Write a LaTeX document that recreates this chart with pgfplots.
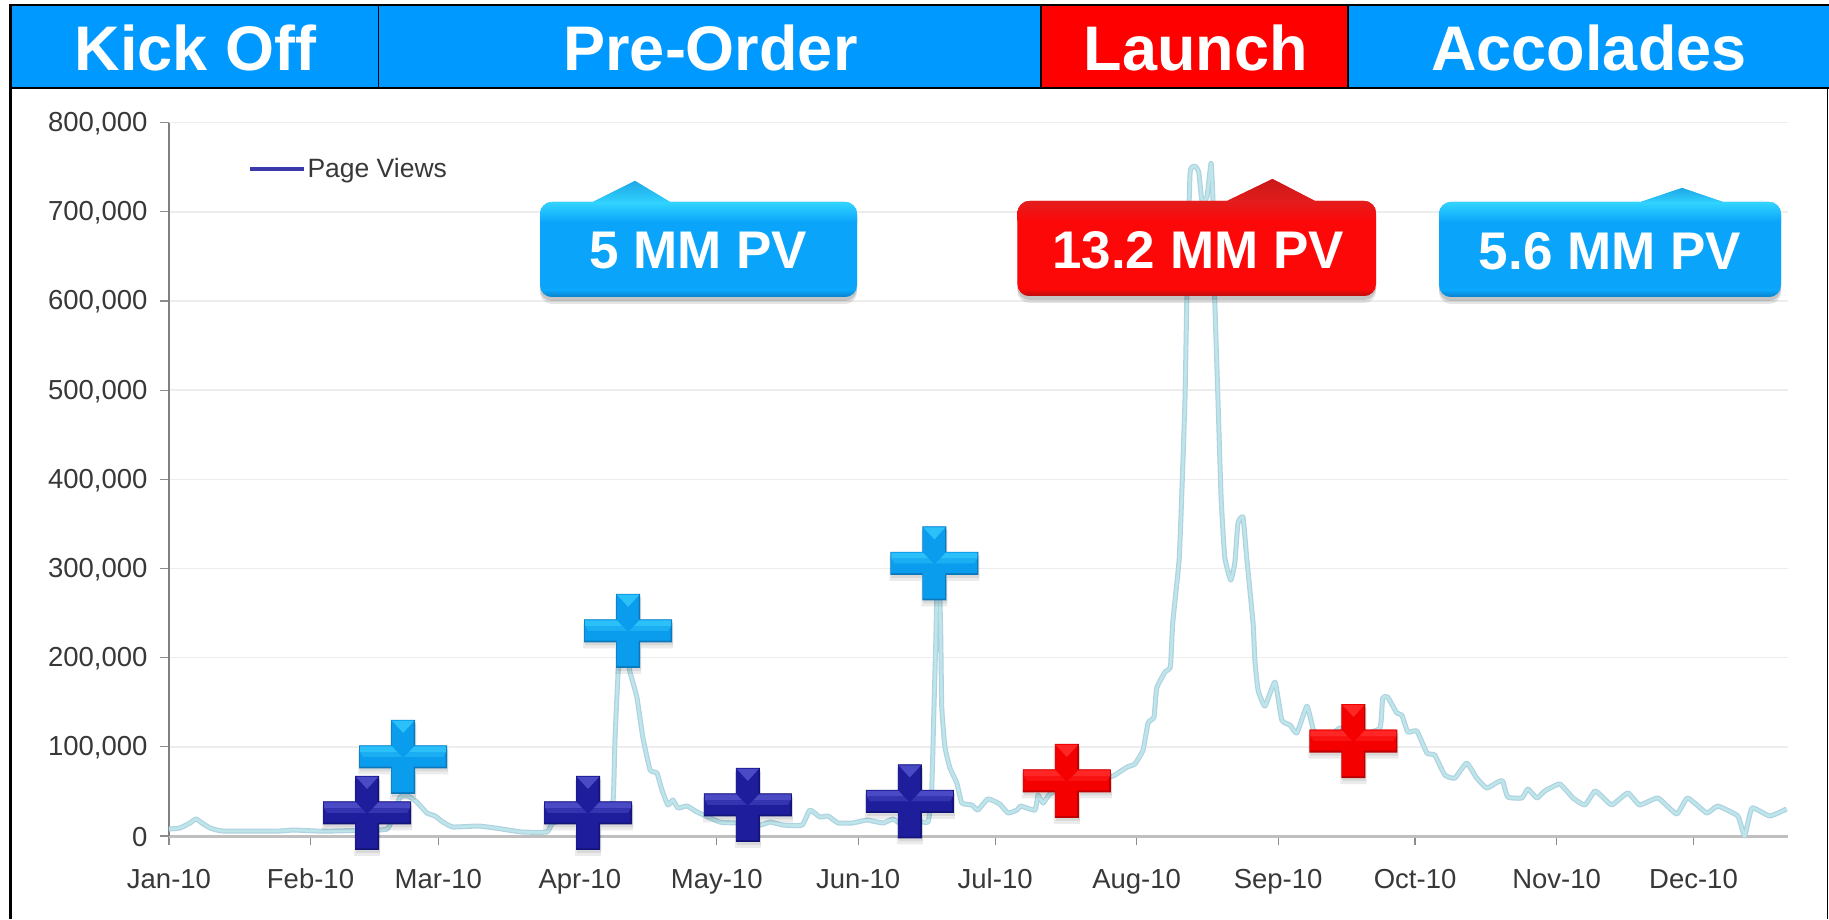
\documentclass[border=0pt]{standalone}
\usepackage{fontspec}
\setmainfont{Liberation Sans}
\usepackage{pgfplots}
\usepackage{pgfplotstable}
\pgfplotsset{compat=1.18}
\definecolor{hdrblue}{HTML}{0099FF}
\definecolor{hdrred}{HTML}{FF0000}
\definecolor{lineout}{HTML}{AFD2E0}
\definecolor{linein}{HTML}{BEE6EA}
\definecolor{lgdblue}{HTML}{3A3AA8}
\definecolor{txtgray}{HTML}{383838}
\definecolor{lbBase}{HTML}{0A9DEE}\definecolor{lbHi}{HTML}{2CC0F8}\definecolor{lbMid}{HTML}{1BAEF3}\definecolor{lbEdge}{HTML}{0B78BC}
\definecolor{dbBase}{HTML}{1E1E9C}\definecolor{dbHi}{HTML}{4A4AC4}\definecolor{dbMid}{HTML}{3434B0}\definecolor{dbEdge}{HTML}{14147A}
\definecolor{rdBase}{HTML}{F40000}\definecolor{rdHi}{HTML}{FF2626}\definecolor{rdMid}{HTML}{FA1212}\definecolor{rdEdge}{HTML}{BC0000}
\newcommand\pp[2]{\pgfqpoint{#1pt}{#2pt}}
\newcommand\crosspath[3]{%
  \pgfmathsetmacro\wx{44-#3}\pgfmathsetmacro\hy{37-#3}\pgfmathsetmacro\ax{12-#3}\pgfmathsetmacro\ay{11.5-#3}%
  \pgfpathmoveto{\pgfpoint{\ax pt+#1pt}{\hy pt+#2pt}}%
  \pgfpathlineto{\pgfpoint{\ax pt+#1pt}{\ay pt+#2pt}}%
  \pgfpathlineto{\pgfpoint{\wx pt+#1pt}{\ay pt+#2pt}}%
  \pgfpathlineto{\pgfpoint{\wx pt+#1pt}{-\ay pt+#2pt}}%
  \pgfpathlineto{\pgfpoint{\ax pt+#1pt}{-\ay pt+#2pt}}%
  \pgfpathlineto{\pgfpoint{\ax pt+#1pt}{-\hy pt+#2pt}}%
  \pgfpathlineto{\pgfpoint{-\ax pt+#1pt}{-\hy pt+#2pt}}%
  \pgfpathlineto{\pgfpoint{-\ax pt+#1pt}{-\ay pt+#2pt}}%
  \pgfpathlineto{\pgfpoint{-\wx pt+#1pt}{-\ay pt+#2pt}}%
  \pgfpathlineto{\pgfpoint{-\wx pt+#1pt}{\ay pt+#2pt}}%
  \pgfpathlineto{\pgfpoint{-\ax pt+#1pt}{\ay pt+#2pt}}%
  \pgfpathlineto{\pgfpoint{-\ax pt+#1pt}{\hy pt+#2pt}}%
  \pgfpathclose}
\newcommand\declcross[2]{%
\pgfdeclareplotmark{#1}{%
  \pgfsetlinewidth{0pt}%
  \pgfscope\pgfsetfillcolor{black}\pgfsetfillopacity{0.08}\crosspath{0}{-5}{-1}\pgfusepath{fill}\crosspath{1}{-3}{0}\pgfusepath{fill}\endpgfscope
  \pgfsetfillcolor{#2Edge}\crosspath{0}{0}{0}\pgfusepath{fill}%
  \pgfsetfillcolor{#2Base}\crosspath{-0.6}{0.8}{1}\pgfusepath{fill}%
  \pgfsetfillcolor{#2Mid}%
  \pgfpathmoveto{\pp{-43}{5}}\pgfpathlineto{\pp{-6}{5}}\pgfpathlineto{\pp{-1}{0}}\pgfpathlineto{\pp{-40}{0}}\pgfpathclose\pgfusepath{fill}%
  \pgfpathmoveto{\pp{43}{5}}\pgfpathlineto{\pp{6}{5}}\pgfpathlineto{\pp{1}{0}}\pgfpathlineto{\pp{40}{0}}\pgfpathclose\pgfusepath{fill}%
  \pgfsetfillcolor{#2Hi}%
  \pgfpathmoveto{\pp{-43}{10.5}}\pgfpathlineto{\pp{-11}{10.5}}\pgfpathlineto{\pp{-6}{5}}\pgfpathlineto{\pp{-43}{5}}\pgfpathclose\pgfusepath{fill}%
  \pgfpathmoveto{\pp{43}{10.5}}\pgfpathlineto{\pp{11}{10.5}}\pgfpathlineto{\pp{6}{5}}\pgfpathlineto{\pp{43}{5}}\pgfpathclose\pgfusepath{fill}%
  \pgfpathmoveto{\pp{-11}{36}}\pgfpathlineto{\pp{11}{36}}\pgfpathlineto{\pp{0}{24}}\pgfpathclose\pgfusepath{fill}%
}}
\declcross{crossLB}{lb}
\declcross{crossDB}{db}
\declcross{crossRD}{rd}
\pgfplotstableread{
day value
0 7800
2.4 9000
4.6 14600
5.9 19100
7.2 14600
9.0 9000
11.8 5600
24.3 5600
27.2 6700
32.4 5600
35.9 5600
44.0 6700
47.8 7800
49.3 23500
50.6 43700
52.4 44800
54.3 38100
56.5 25800
58.3 22400
60.0 15700
62.2 10100
67.7 11200
71.4 9000
77.3 4500
82.8 4500
84.1 14600
88.9 20200
95.5 23500
97.3 40400
97.7 107600
98.4 183800
99.0 208500
100.1 208500
101.0 183800
102.5 155800
103.8 111000
105.4 74000
106.9 70600
108.0 51600
109.3 34800
110.4 40400
111.5 31400
113.5 33600
115.7 26900
120.7 15700
124.4 14600
129.5 12300
131.7 15700
134.5 12300
138.7 12300
140.4 29100
142.6 21300
144.4 22400
146.6 14600
149.8 14600
152.9 17900
156.4 14600
158.6 19100
160.1 14600
163.4 17900
166.3 15700
167.1 51600
167.6 144600
168.0 219700
168.2 264600
168.5 309000
168.9 264600
169.1 219700
169.3 144600
170.0 99800
171.1 76200
172.6 59400
173.7 37000
175.9 34800
177.2 29100
179.4 41500
182.0 35900
183.8 25800
185.8 29100
186.6 33600
189.7 29100
190.4 46000
191.5 37000
193.0 47100
197.4 57200
201.8 61700
206.8 67300
209.9 77300
211.6 80700
213.4 96400
214.5 126700
215.8 133400
216.4 165900
218.2 183800
219.4 190000
219.9 238800
221.3 309400
221.9 385000
222.6 492100
223.0 604200
223.7 743200
224.8 751100
225.6 744300
226.3 713000
227.4 716300
228.3 754400
228.7 716300
229.1 604200
229.8 492100
230.5 380000
231.3 312800
232.6 287000
233.5 306000
234.2 350900
235.3 357600
236.1 312800
237.5 238800
237.9 197300
238.6 163700
240.1 145700
242.3 172600
243.8 130000
245.6 124400
247.1 115500
249.3 145700
250.6 121100
252.1 102000
256.5 121100
260.9 113200
265.3 121100
265.9 154700
267.0 155800
269.0 137900
270.1 135600
271.4 116600
273.4 117700
275.6 93000
277.3 90800
279.5 68400
281.7 65000
284.3 81800
286.5 65000
288.7 53800
291.1 60500
292.2 61700
293.3 43700
296.4 42600
297.7 52700
299.7 42600
301.4 50400
304.7 58300
307.6 42600
310.2 34800
312.4 50400
314.1 43700
316.1 34800
319.6 48200
322.2 34800
326.2 42600
330.3 24700
332.7 42600
336.9 25800
339.3 33600
343.7 22400
345.2 0
346.8 31400
350.7 22400
354.4 30300
}\pvtable
\newcommand\callpath[8]{(#1,#3+22) [rounded corners=12pt] -- (#1,#3) [sharp corners] -- (#5,#3) -- (#6,#7) -- (#8,#3) [rounded corners=12pt] -- (#2,#3) -- (#2,#4) -- (#1,#4) -- cycle}
\newcommand\callout[8]{%
  \fill[black,opacity=.10,yshift=-7pt] \callpath{#1}{#2}{#3}{#4}{#5}{#6}{#7}{#8};
  \fill[black,opacity=.14,yshift=-4pt] \callpath{#1}{#2}{#3}{#4}{#5}{#6}{#7}{#8};
  \fill[cbase] \callpath{#1}{#2}{#3}{#4}{#5}{#6}{#7}{#8};
  \begin{scope}
    \clip \callpath{#1}{#2}{#3}{#4}{#5}{#6}{#7}{#8};
    \shade[top color=cedge,bottom color=chi] (#1,#7) rectangle (#2,#3+1);
    \shade[top color=chi,bottom color=cbase] (#1,#3+1) rectangle (#2,#3+20);
    \shade[top color=cbase,bottom color=clow] (#1,#4-7) rectangle (#2,#4+1);
  \end{scope}
}
\begin{document}
\begin{tikzpicture}
\useasboundingbox (0pt,0pt) rectangle (1829pt,919pt);
\begin{axis}[
  scale only axis, width=1619pt, height=713.3pt,
  at={(169pt,83pt)}, anchor=south west,
  xmin=0, xmax=354.7, ymin=0, ymax=800000,
  clip=false,
  axis lines=left, axis line style={-},
  x axis line style={draw=black!25,line width=3pt},
  y axis line style={draw=black!50,line width=1.4pt},
  xtick={0,31,59,90,120,151,181,212,243,273,304,334},
  xticklabels={Jan-10,Feb-10,Mar-10,Apr-10,May-10,Jun-10,Jul-10,Aug-10,Sep-10,Oct-10,Nov-10,Dec-10},
  ytick={0,100000,200000,300000,400000,500000,600000,700000,800000},
  scaled y ticks=false,
  tick align=outside,
  major tick length=9pt,
  xtick style={draw=black!45,line width=1.2pt},
  ytick style={draw=black!45,line width=1.2pt},
  ymajorgrids, grid style={draw=black!7,line width=1.4pt},
  /pgf/number format/assume math mode=true,
  /pgf/number format/fixed,
  /pgf/number format/1000 sep={,},
  tick label style={font=\fontsize{27.5}{27.5}\selectfont,text=txtgray},
  xticklabel style={text height=20pt,text depth=6pt,yshift=-19.5pt},
  yticklabel style={xshift=-9pt,yshift=-1pt},
  legend style={at={(0.0488,0.935)},anchor=west,draw=none,fill=none,inner sep=0pt,outer sep=0pt,
    font=\fontsize{26.5}{26.5}\selectfont,text=txtgray,
    /tikz/every even column/.style={column sep=0pt}},
  legend image code/.code={\draw[lgdblue,line width=3.5pt] (0pt,0pt) -- (54pt,0pt);},
]
\addlegendimage{lgdblue}
\addlegendentry{Page Views}
\addplot[forget plot,lineout,line width=1.2pt,line join=round,double=linein,double distance=2.6pt,smooth,tension=0.25] table[x=day,y=value] {\pvtable};
\addplot[forget plot,only marks,mark=crossDB] coordinates {(43.4,25800) (91.8,25800) (126.8,34800) (162.3,38700)};
\addplot[forget plot,only marks,mark=crossLB] coordinates {(51.3,88700) (100.6,230000) (167.7,305700)};
\addplot[forget plot,only marks,mark=crossRD] coordinates {(196.7,61700) (259.5,106500)};
\end{axis}
\begin{scope}[x=1pt,y=-1pt,shift={(0pt,919pt)}]
  \fill[hdrblue] (11,6) rectangle (1829,88);
  \fill[hdrred] (1041,6) rectangle (1348,88);
  \draw[black,line width=1.6pt] (378.5,6) -- (378.5,88);
  \draw[black,line width=1.6pt] (1041,6) -- (1041,88);
  \draw[black,line width=1.6pt] (1348,6) -- (1348,88);
  \draw[black,line width=2.6pt] (10.5,919) -- (10.5,5) -- (1829,5);
  \draw[black,line width=2.6pt] (10.5,88) -- (1829,88);
  \draw[black,line width=1.6pt] (1827.5,88) -- (1827.5,919);
  \begin{scope}[every node/.style={anchor=base,text=white,font=\fontsize{63}{63}\selectfont\bfseries,inner sep=0pt}]
    \node at (195.5,71) {Kick Off};
    \node at (710.5,71) {Pre-Order};
    \node at (1195.5,71) {Launch};
    \node at (1589,71) {Accolades};
  \end{scope}
  \definecolor{cbase}{HTML}{0AA5FA}\definecolor{chi}{HTML}{30D2FF}\definecolor{clow}{HTML}{0B7CC4}\definecolor{cedge}{HTML}{1EA8E6}
  \callout{540}{857}{202}{297}{593}{635}{181}{670}
  \callout{1439}{1781}{202}{297}{1640.6}{1682}{188}{1723}
  \definecolor{cbase}{HTML}{FC0808}\definecolor{chi}{HTML}{E41C1C}\definecolor{clow}{HTML}{B01010}\definecolor{cedge}{HTML}{C81818}
  \callout{1017.4}{1376}{201}{296}{1227}{1272.5}{179}{1315}
  \begin{scope}[every node/.style={anchor=base,text=white,font=\fontsize{53}{53}\selectfont\bfseries,inner sep=0pt}]
    \node at (698,269) {5 MM PV};
    \node at (1198,269) {13.2 MM PV};
    \node at (1610,270) {5.6 MM PV};
  \end{scope}
\end{scope}
\end{tikzpicture}
\end{document}
